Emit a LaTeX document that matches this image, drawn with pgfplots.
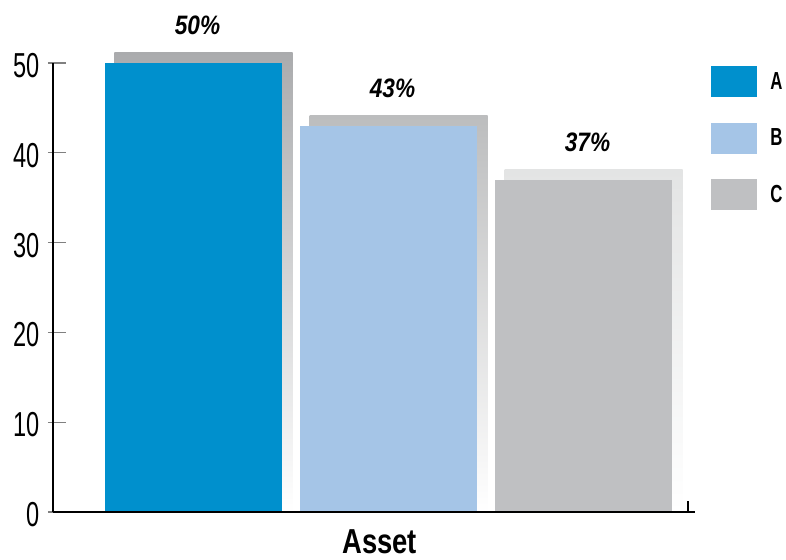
\documentclass[border=0pt]{standalone}
\usepackage{fontspec}
\usepackage{pgfplots}
\pgfplotsset{compat=1.18}
\newfontfamily\tickfont{Liberation Sans}[FakeStretch=0.68]
\newfontfamily\labfont{Liberation Sans}[FakeStretch=0.85]
\newfontfamily\asfont{Liberation Sans}[FakeStretch=0.79]
\newfontfamily\legfont{Liberation Sans}[FakeStretch=0.68]
\newcommand{\lf}{\legfont\bfseries\fontsize{18.5}{18.5}\selectfont}

\definecolor{cA}{HTML}{0090CD}
\definecolor{cB}{HTML}{A5C5E7}
\definecolor{cC}{HTML}{BFC0C2}
\definecolor{shA}{HTML}{AAABAD}
\definecolor{shB}{HTML}{BCBDBE}
\definecolor{shC}{HTML}{E3E4E4}

\pgfplotsset{
  legimg/.style={legend image code/.code={\fill[##1] (0pt,-11.6pt) rectangle (34.5pt,11.6pt);}},
  shadow/.style={ybar, bar width=178, bar shift=0pt, draw=none, top color=#1, bottom color=white, forget plot},
  mainbar/.style={ybar, bar width=177, bar shift=0pt, draw=none, fill=#1, legimg,
    point meta=explicit symbolic, nodes near coords,
    nodes near coords style={anchor=south, inner sep=0pt, yshift=21pt, xshift=3pt,
      font=\labfont\bfseries\itshape\fontsize{20}{20}\selectfont}},
}

\begin{document}
\begin{tikzpicture}
\begin{axis}[
  name=ax,
  scale only axis, width=481.5pt, height=336.75pt,
  xmin=53, xmax=695, ymin=0, ymax=50,
  clip=false, axis on top,
  axis x line=bottom, axis y line=left,
  axis line style={-, line width=1pt},
  xtick=\empty,
  ytick={0,10,20,30,40,50},
  yticklabels={0,10,20,30,40,50},
  tick align=center, major tick length=13.5pt,
  ytick style={line width=1pt, xshift=3pt},
  yticklabel style={font=\tickfont\fontsize{26}{26}\selectfont, anchor=east, yshift=-2pt},
  xlabel={Asset},
  xlabel style={font=\asfont\bfseries\fontsize{26}{26}\selectfont,
    at={(rel axis cs:0.509,0)}, anchor=north, inner sep=0pt, yshift=-13pt},
  legend style={draw=none, fill=none, at={(axis cs:711,49.67)}, anchor=north west,
    inner sep=0pt, row sep=19.2pt, nodes={inner sep=0pt, font=\lf},
    font=\lf,
    /tikz/every odd column/.append style={column sep=9.75pt}},
  legend cell align=left,
]
% shadows behind the bars
\addplot[shadow=shA] coordinates {(203.5,51.2)};
\addplot[shadow=shB] coordinates {(398.5,44.1)};
\addplot[shadow=shC] coordinates {(593.5,38.1)};
% bars
\addplot[mainbar=cA] coordinates {(193.5,50) [50\%]};
\addplot[mainbar=cB] coordinates {(388.5,43) [43\%]};
\addplot[mainbar=cC] coordinates {(583.5,37) [37\%]};
\legend{\lf A,\lf B,\lf C}
\draw[line width=1pt] (axis cs:688,0) -- ++(0pt,8.25pt);
\end{axis}
\path (ax.south west) ++(-39.75pt,-36pt) rectangle ++(589.5pt,420pt);
\end{tikzpicture}
\end{document}
